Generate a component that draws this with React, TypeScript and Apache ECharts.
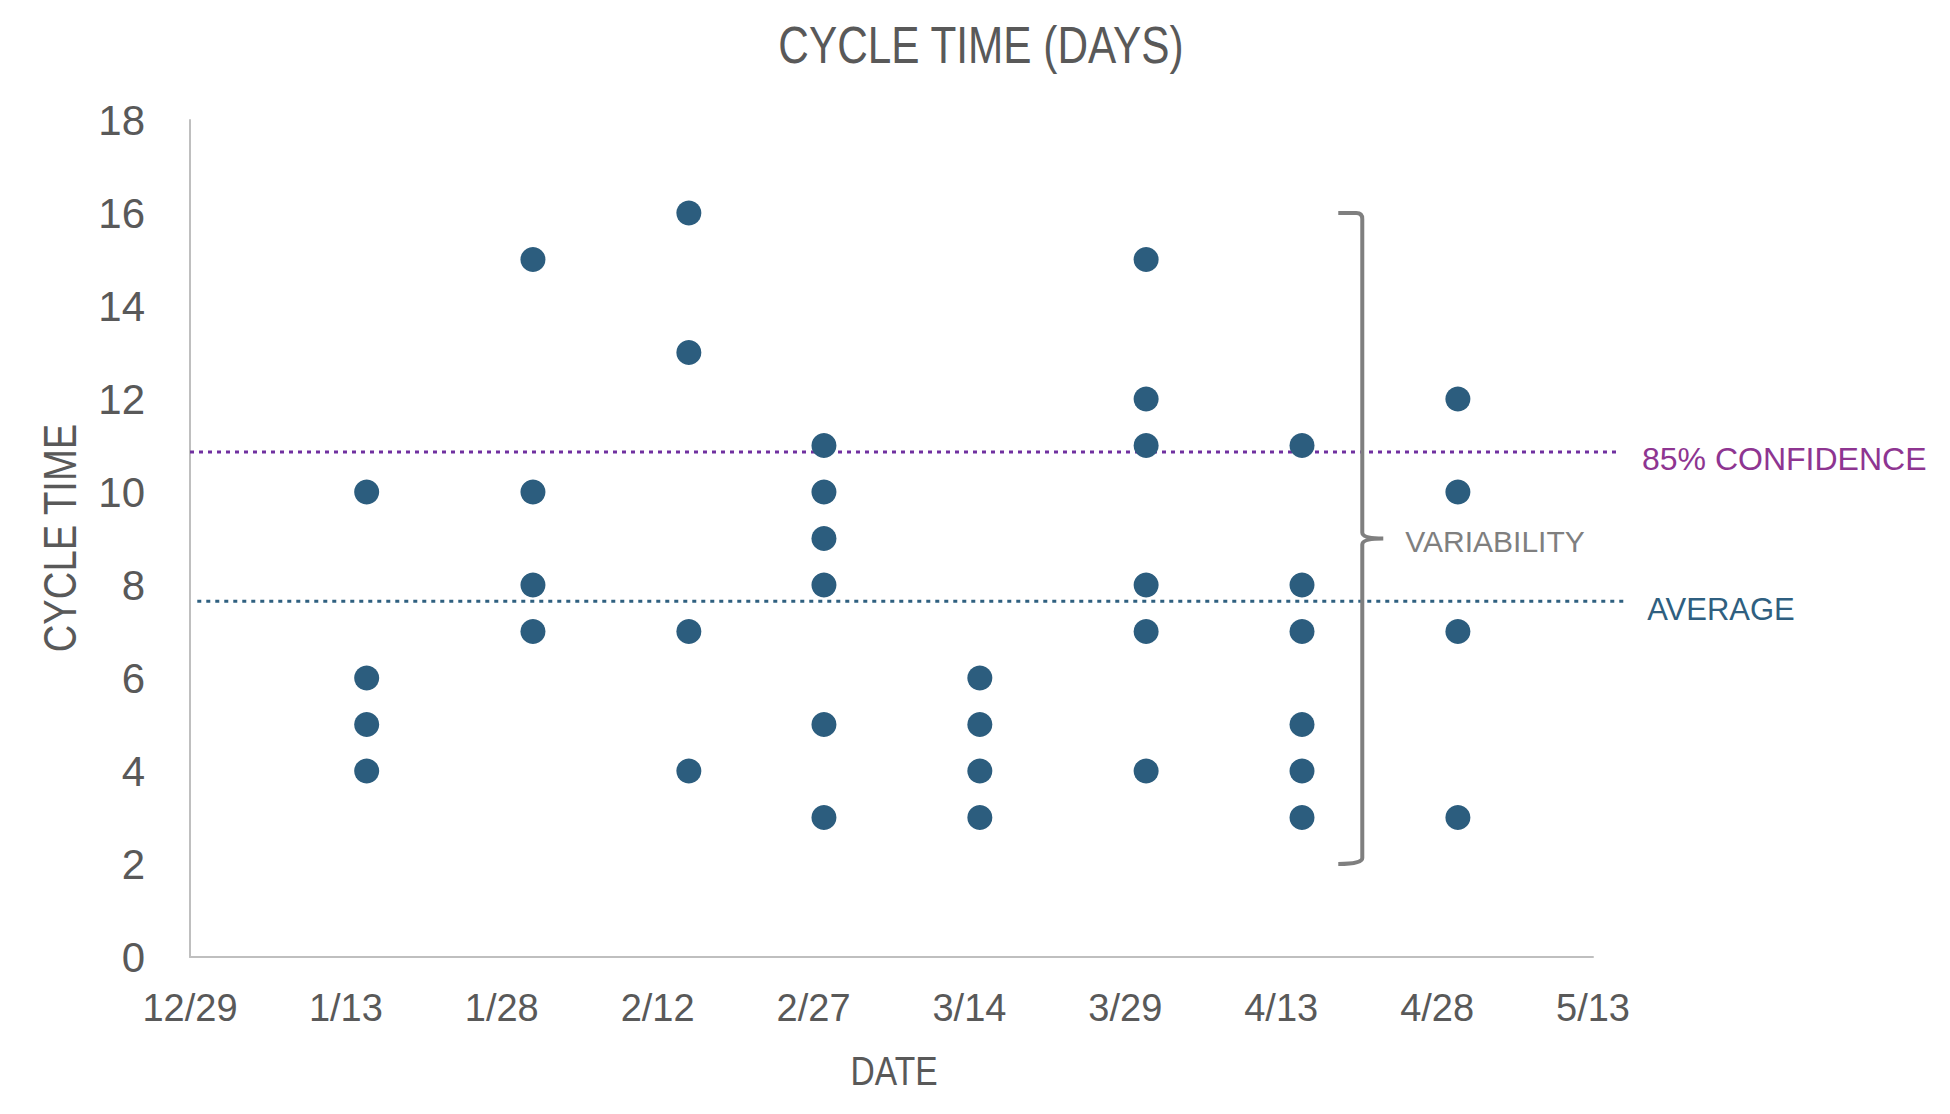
import React, { useEffect, useRef } from "react";
import * as echarts from "echarts";

// ---- data ----
const axisStartDate = "2022-12-29";
const axisEndDays = 135; // 5/13
const tickIntervalDays = 15;

const sampleDates = [
  "2023-01-15",
  "2023-01-31",
  "2023-02-15",
  "2023-02-28",
  "2023-03-15",
  "2023-03-31",
  "2023-04-15",
  "2023-04-30",
];
const cycleTimes = [
  [10, 6, 5, 4],
  [15, 10, 8, 7],
  [16, 13, 7, 4],
  [11, 10, 9, 8, 5, 3],
  [6, 5, 4, 3],
  [15, 12, 11, 8, 7, 4],
  [11, 8, 7, 5, 4, 3],
  [12, 10, 7, 3],
];

const refLineNames = ["85% CONFIDENCE", "AVERAGE"];
const refLineValues = [10.86, 7.65];
const refLineStarts = [0, 0.7];
const refLineEnds = [137.6, 138.1];

const bracketDay = 112.8;
const bracketLow = 2;
const bracketHigh = 16;
const bracketMid = 9;

const yMin = 0;
const yMax = 18;
const yInterval = 2;

// ---- helpers ----
const DAY = 86400000;
const baseMs = Date.parse(axisStartDate + "T00:00:00Z");
const toDays = (iso: string) => Math.round((Date.parse(iso + "T00:00:00Z") - baseMs) / DAY);
const fmtTick = (v: number) => {
  const d = new Date(baseMs + Math.round(v) * DAY);
  return `${d.getUTCMonth() + 1}/${d.getUTCDate()}`;
};

const REG = '"Liberation Sans", Arial, sans-serif';
const TEXT = "#595959";
const DOT = "#2C5D7E";
const refLineColors = ["#7030A0", "#2F6080"];
const refLabelColors = ["#8E3591", "#2F5F80"];
const refLabelSizes = [32, 31];
const refLabelOffsets = [7, 8];

export default function App() {
  const ref = useRef<HTMLDivElement>(null);

  useEffect(() => {
    if (!ref.current) return;
    const chart = echarts.init(ref.current, undefined, { renderer: "svg" });

    const points: number[][] = [];
    sampleDates.forEach((d, i) => {
      cycleTimes[i].forEach((v) => points.push([toDays(d), v]));
    });

    const refLineData = refLineNames.map((_, i) => [
      refLineStarts[i],
      refLineEnds[i],
      refLineValues[i],
      i,
    ]);

    chart.setOption({
      animation: false,
      backgroundColor: "#ffffff",
      graphic: [
        {
          type: "text",
          x: 981,
          y: 46,
          scaleX: 0.83,
          style: {
            text: "CYCLE TIME (DAYS)",
            font: `51px ${REG}`,
            fill: TEXT,
            align: "center",
            verticalAlign: "middle",
          },
        },
        {
          type: "text",
          x: 60,
          y: 538,
          rotation: Math.PI / 2,
          scaleX: 0.83,
          style: {
            text: "CYCLE TIME",
            font: `46px ${REG}`,
            fill: TEXT,
            align: "center",
            verticalAlign: "middle",
          },
        },
        {
          type: "text",
          x: 894,
          y: 1071,
          scaleX: 0.84,
          style: {
            text: "DATE",
            font: `40px ${REG}`,
            fill: TEXT,
            align: "center",
            verticalAlign: "middle",
          },
        },
      ],
      grid: { left: 190, right: 357, top: 120, bottom: 157 },
      xAxis: {
        type: "value",
        min: 0,
        max: axisEndDays,
        interval: tickIntervalDays,
        axisLine: { show: true, lineStyle: { color: "#BFBFBF", width: 2 } },
        axisTick: { show: false },
        splitLine: { show: false },
        axisLabel: {
          formatter: fmtTick,
          fontFamily: REG,
          fontSize: 38,
          color: TEXT,
          margin: 32,
        },
      },
      yAxis: {
        type: "value",
        min: yMin,
        max: yMax,
        interval: yInterval,
        axisLine: { show: true, lineStyle: { color: "#BFBFBF", width: 2 } },
        axisTick: { show: false },
        splitLine: { show: false },
        axisLabel: { fontFamily: REG, fontSize: 42, color: TEXT, margin: 45 },
      },
      series: [
        {
          type: "custom",
          name: "Reference lines",
          silent: true,
          clip: false,
          data: refLineData,
          renderItem: (params: any, api: any) => {
            const i = api.value(3);
            const p0 = api.coord([api.value(0), api.value(2)]);
            const p1 = api.coord([api.value(1), api.value(2)]);
            return {
              type: "group",
              children: [
                {
                  type: "line",
                  shape: { x1: p0[0], y1: p0[1], x2: p1[0], y2: p1[1] },
                  style: {
                    stroke: refLineColors[i],
                    lineWidth: 3,
                    lineDash: [4, 5],
                  },
                },
                {
                  type: "text",
                  x: p1[0] + 22,
                  y: p1[1] + refLabelOffsets[i],
                  style: {
                    text: refLineNames[i],
                    fill: refLabelColors[i],
                    font: `${refLabelSizes[i]}px ${REG}`,
                    align: "left",
                    verticalAlign: "middle",
                  },
                },
              ],
            };
          },
          z: 1,
        },
        {
          type: "scatter",
          name: "Cycle time",
          data: points,
          symbol: "circle",
          symbolSize: 25,
          itemStyle: { color: DOT, opacity: 1 },
          z: 3,
        },
        {
          type: "custom",
          name: "Variability",
          silent: true,
          clip: false,
          data: [[bracketDay, bracketLow, bracketHigh, bracketMid]],
          renderItem: (params: any, api: any) => {
            const top = api.coord([api.value(0), api.value(2)]);
            const bot = api.coord([api.value(0), api.value(1)]);
            const mid = api.coord([api.value(0), api.value(3)]);
            const x = top[0];
            const yt = top[1];
            const yb = bot[1];
            const ym = mid[1];
            const hook = 24;
            const tip = 21;
            const r = 6;
            const d =
              `M${x - hook},${yt} L${x - r},${yt} Q${x},${yt} ${x},${yt + r} ` +
              `L${x},${ym - r} Q${x},${ym} ${x + tip},${ym} ` +
              `M${x + tip},${ym} Q${x},${ym} ${x},${ym + r} ` +
              `L${x},${yb - r} Q${x},${yb} ${x - hook},${yb}`;
            return {
              type: "group",
              children: [
                {
                  type: "path",
                  shape: { pathData: d },
                  style: { stroke: "#7F7F7F", lineWidth: 4, fill: "none" },
                },
                {
                  type: "text",
                  x: x + tip + 22,
                  y: ym + 3,
                  style: {
                    text: "VARIABILITY",
                    fill: "#7F7F7F",
                    font: `30px ${REG}`,
                    verticalAlign: "middle",
                    align: "left",
                  },
                },
              ],
            };
          },
          z: 2,
        },
      ],
    });

    return () => chart.dispose();
  }, []);

  return (
    <div
      ref={ref}
      style={{ position: "absolute", left: 0, top: 0, width: 1950, height: 1114, background: "#fff" }}
    />
  );
}
